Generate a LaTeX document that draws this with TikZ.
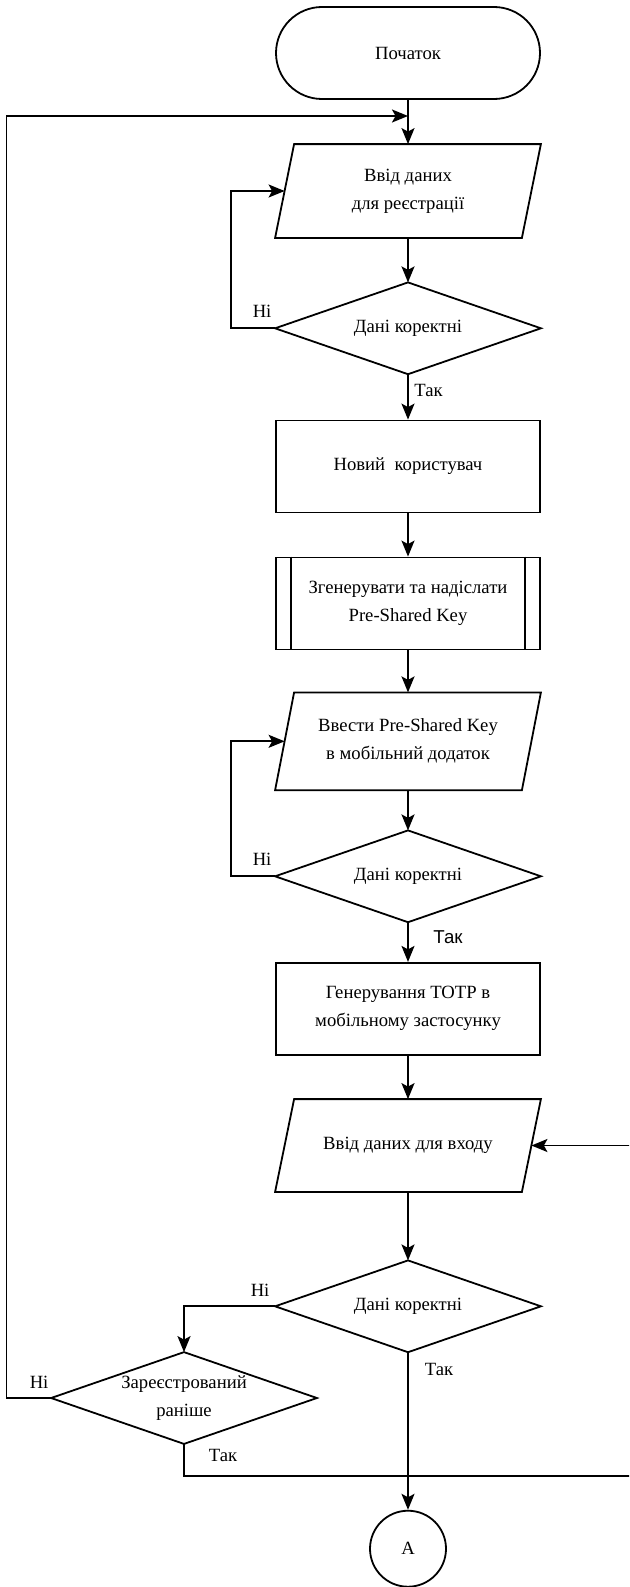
\documentclass[tikz,border=0pt]{standalone}
\usepackage{fontspec}
\setmainfont{Liberation Serif}
\newfontfamily\labelsans{Liberation Sans}
\usetikzlibrary{arrows.meta,calc}

% parallelogram outline around an invisible text node
\newcommand\ioshape[1]{\draw ($(#1.north west)+(9.5,0)$) -- ($(#1.north east)+(9.5,0)$)
  -- ($(#1.south east)+(-9.5,0)$) -- ($(#1.south west)+(-9.5,0)$) -- cycle;}
% diamond outline through the anchors of a text node
\newcommand\decshape[1]{\draw (#1.north) -- (#1.east) -- (#1.south) -- (#1.west) -- cycle;}

\begin{document}
\begin{tikzpicture}[x=1pt,y=-1pt,
  line width=1.8pt,
  every node/.style={font=\fontsize{18.67}{28}\selectfont},
  flow/.style={-{Stealth[length=16pt,width=13pt,inset=3.5pt]}},
  box/.style={draw, minimum width=264pt, minimum height=92pt, inner sep=0pt, align=center},
  io/.style={minimum width=245pt, minimum height=92pt, inner sep=0pt, align=center},
  dec/.style={minimum width=264pt, minimum height=90pt, inner sep=0pt, align=center},
  lbl/.style={inner sep=0pt}]

\useasboundingbox (0,0) rectangle (629,1587);
\clip (0,0) rectangle (629,1587);

% blocks
\node[box, rounded corners=46pt] (start) at (408,53) {Початок};
\node[io] (in1) at (408,191) {Ввід даних\\для реєстрації};
\ioshape{in1}
\node[dec] (d1) at (408,328.3) {Дані коректні};
\decshape{d1}
\node[box] (new) at (408,466.5) {Новий~~користувач};
\node[box] (pre) at (408,603.5) {Згенерувати та надіслати\\Pre-Shared Key};
\draw ($(pre.north west)+(16,0)$) -- ($(pre.south west)+(16,0)$);
\draw ($(pre.north east)+(-16,0)$) -- ($(pre.south east)+(-16,0)$);
\node[io, minimum height=96pt] (in2) at (408,741.3) {Ввести Pre-Shared Key\\в мобільний додаток};
\ioshape{in2}
\node[dec] (d2) at (408,876.3) {Дані коректні};
\decshape{d2}
\node[box] (totp) at (408,1008.8) {Генерування TOTP в\\мобільному застосунку};
\node[io, minimum height=91pt] (in3) at (408,1145.5) {Ввід даних для входу};
\ioshape{in3}
\node[dec] (d3) at (408,1306.3) {Дані коректні};
\decshape{d3}
\node[dec] (d4) at (184,1398) {Зареєстрований\\раніше};
\decshape{d4}
\node[draw, circle, minimum size=76pt, inner sep=0pt] (A) at (408,1548.7) {A};

% junction points
\coordinate (join) at (408,116);
\coordinate (lft) at (6.5,116);
\coordinate (rt) at (640,1475.7);

% main flow
\draw[flow] (start.south) -- (in1.north);
\draw[flow] (in1.south) -- (d1.north);
\draw[flow] (d1.south) -- (new.north);
\draw[flow] (new.south) -- (pre.north);
\draw[flow] (pre.south) -- (in2.north);
\draw[flow] (in2.south) -- (d2.north);
\draw[flow] (d2.south) -- (totp.north);
\draw[flow] (totp.south) -- (in3.north);
\draw[flow] (in3.south) -- (d3.north);
\draw[flow] (d3.south) -- (A.north);

% retry loops
\draw[flow] (d1.west) -- ++(-44,0) |- (in1.west);
\draw[flow] (d2.west) -- ++(-44,0) |- (in2.west);
\draw[flow] (d3.west) -| (d4.north);
\draw[flow] (d4.west) -| (lft) -- (join);
\draw[flow] (d4.south) |- (rt) |- (in3.east);

% branch labels
\node[lbl] at ($(d1.west)+(-13,-17)$) {Ні};
\node[lbl] at ($(d1.south)+(20.5,16.7)$) {Так};
\node[lbl] at ($(d2.west)+(-13,-16.5)$) {Ні};
\node[lbl, font=\labelsans\fontsize{18.67}{22}\selectfont] at ($(d2.south)+(40,15)$) {Так};
\node[lbl] at ($(d3.west)+(-15,-16)$) {Ні};
\node[lbl] at ($(d3.south)+(31,17.6)$) {Так};
\node[lbl] at ($(d4.west)+(-12,-16)$) {Ні};
\node[lbl] at ($(d4.south)+(39,11.7)$) {Так};
\end{tikzpicture}
\end{document}
